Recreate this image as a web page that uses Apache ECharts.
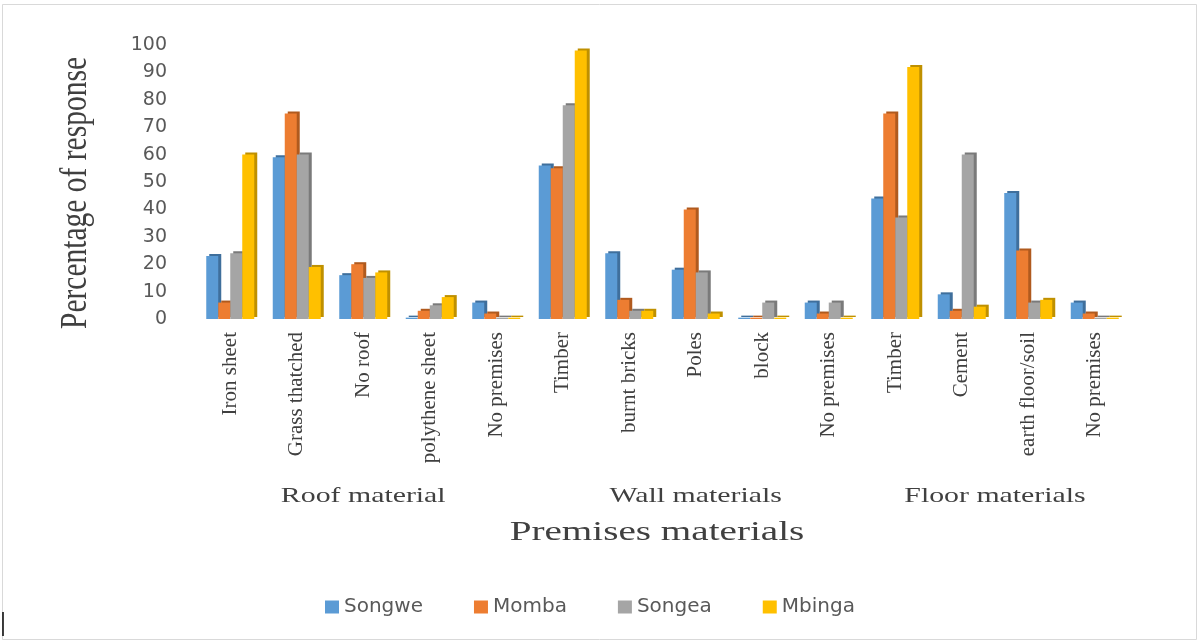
<!DOCTYPE html>
<html>
<head>
<meta charset="utf-8">
<script src="https://cdn.jsdelivr.net/npm/echarts@6/dist/echarts.min.js"></script>
<style>
html,body{margin:0;padding:0;background:#fff;}
#c{width:1200px;height:642px;}
</style>
</head>
<body>
<div id="c"></div>
<script>
const categories = ['Iron sheet','Grass thatched','No roof','polythene sheet','No premises',
  'Timber','burnt bricks','Poles','block','No premises',
  'Timber','Cement','earth floor/soil','No premises'];
const groupNames = ['Roof material','Wall materials','Floor materials'];
const groupStart = [0, 5, 10];
const groupEnd = [4, 9, 13];
const seriesNames = ['Songwe','Momba','Songea','Mbinga'];
const songwe = [23, 59, 16, 0.5, 6, 56, 24, 18, 0.5, 6, 44, 9, 46, 6];
const momba  = [6, 75, 20, 3, 2, 55, 7, 40, 0.5, 2, 75, 3, 25, 2];
const songea = [24, 60, 15, 5, 0.5, 78, 3, 17, 6, 6, 37, 60, 6, 0.5];
const mbinga = [60, 19, 17, 8, 0.5, 98, 3, 2, 0.5, 0.5, 92, 4.5, 7, 0.5];
const xTitle = 'Premises materials';
const yTitle = 'Percentage of response';

const colors = ['#5B9BD5','#ED7D31','#A5A5A5','#FFC000'];
const sideColors = ['#3F6F9C','#B05A1E','#7A7A7A','#BF9000'];
const values = [songwe, momba, songea, mbinga];

const chart = echarts.init(document.getElementById('c'), null, {renderer:'canvas'});
const serif = '"Liberation Serif","Times New Roman",serif';
const sans = '"DejaVu Sans",Verdana,sans-serif';

const option = {
  animation: false,
  backgroundColor: '#fff',
  color: colors,
  grid: {left: 197, right: 72, top: 45, bottom: 323, containLabel: false},
  legend: {
    data: seriesNames,
    left: 320, top: 592,
    icon: 'rect', itemWidth: 14, itemHeight: 13, itemGap: 51,
    textStyle: {fontFamily: sans, fontSize: 20, color: '#595959'}
  },
  xAxis: {
    type: 'category',
    data: categories,
    axisLine: {show: false},
    axisTick: {show: false},
    axisLabel: {interval: 0, rotate: 90, margin: 13, fontFamily: serif, fontSize: 21, color: '#404040'}
  },
  yAxis: {
    type: 'value', min: 0, max: 100, interval: 10,
    splitLine: {show: false},
    axisLine: {show: false},
    axisTick: {show: false},
    axisLabel: {margin: 30, fontFamily: sans, fontSize: 19, color: '#595959'}
  },
  series: seriesNames.map((n, i) => ({
    name: n, type: 'bar', data: values[i],
    barWidth: 12, barGap: '0%',
    itemStyle: {
      color: colors[i],
      shadowColor: sideColors[i], shadowBlur: 0, shadowOffsetX: 3, shadowOffsetY: -2
    }
  }))
};
chart.setOption(option);

const graphics = [];
for (let g = 0; g < groupNames.length; g++) {
  const x0 = chart.convertToPixel({xAxisIndex: 0}, groupStart[g]);
  const x1 = chart.convertToPixel({xAxisIndex: 0}, groupEnd[g]);
  graphics.push({
    type: 'text', x: (x0 + x1) / 2, y: 496, scaleX: 1.42,
    style: {text: groupNames[g], font: '21px ' + serif, fill: '#404040', textAlign: 'center', textVerticalAlign: 'middle'}
  });
}
graphics.push({
  type: 'text', x: 657, y: 533, scaleX: 1.45,
  style: {text: xTitle, font: '27px ' + serif, fill: '#404040', textAlign: 'center', textVerticalAlign: 'middle'}
});
graphics.push({
  type: 'text', x: 76, y: 193, rotation: Math.PI / 2, scaleY: 1.3,
  style: {text: yTitle, font: '29.5px ' + serif, fill: '#404040', textAlign: 'center', textVerticalAlign: 'middle'}
});
graphics.push({
  type: 'rect', shape: {x: 2.5, y: 4.5, width: 1194, height: 635},
  style: {fill: 'none', stroke: '#d9d9d9', lineWidth: 1}, silent: true
});
graphics.push({
  type: 'line', shape: {x1: 3, y1: 612, x2: 3, y2: 636},
  style: {stroke: '#000', lineWidth: 1.5}, silent: true
});
chart.setOption({graphic: graphics});
</script>
</body>
</html>
